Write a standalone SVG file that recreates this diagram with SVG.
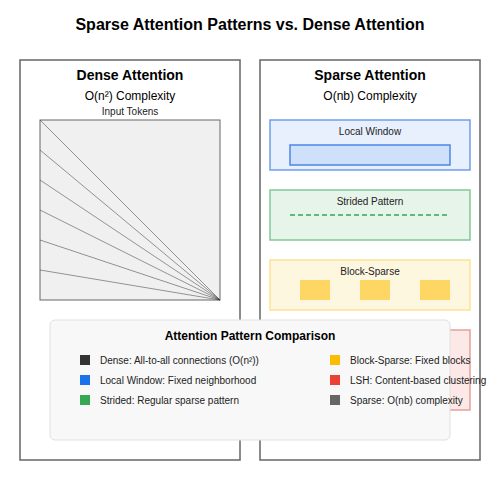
<svg xmlns="http://www.w3.org/2000/svg" width="500" height="500" viewBox="0 0 500 500">
<style>
text{font-family:"Liberation Sans",Arial,sans-serif;fill:#000;text-anchor:middle}
.title{font-size:16px;font-weight:bold}
.h{font-size:14px;font-weight:bold}
.sub{font-size:12px}
.sm{font-size:10px;fill:#222}
.leg{font-size:10px;fill:#222;text-anchor:start}
.panel{fill:#fff;stroke:#666;stroke-width:1.5}
.conn line{stroke:#333;stroke-width:0.5}
</style>
<rect width="500" height="500" fill="#fff"/>
<text class="title" x="250" y="30">Sparse Attention Patterns vs. Dense Attention</text>
<g id="dense">
<rect class="panel" x="20" y="60" width="220" height="400"/>
<text class="h" x="130" y="80">Dense Attention</text>
<text class="sub" x="130" y="100">O(n²) Complexity</text>
<text class="sm" x="130" y="115">Input Tokens</text>
<rect x="40" y="120" width="180" height="180" fill="#f0f0f0" stroke="#666" stroke-width="1"/>
</g>
<g id="connectors" class="conn">
<line x1="40" y1="120" x2="220" y2="300"/>
<line x1="40" y1="150" x2="220" y2="300"/>
<line x1="40" y1="180" x2="220" y2="300"/>
<line x1="40" y1="210" x2="220" y2="300"/>
<line x1="40" y1="240" x2="220" y2="300"/>
<line x1="40" y1="270" x2="220" y2="300"/>
</g>
<g id="sparse">
<rect class="panel" x="260" y="60" width="220" height="400"/>
<text class="h" x="370" y="80">Sparse Attention</text>
<text class="sub" x="370" y="100">O(nb) Complexity</text>
</g>
<g id="local-window">
<rect x="270" y="120" width="200" height="50" fill="#e8f0fe" stroke="#6d9eeb" stroke-width="1.5"/>
<text class="sm" x="370" y="135">Local Window</text>
<rect x="290" y="145" width="160" height="20" fill="#cfe0fa" stroke="#4a86e8" stroke-width="1.5"/>
</g>
<g id="strided">
<rect x="270" y="190" width="200" height="50" fill="#e6f4ea" stroke="#81c995" stroke-width="1.5"/>
<text class="sm" x="370" y="205">Strided Pattern</text>
<line x1="290" y1="215" x2="450" y2="215" stroke="#34a853" stroke-width="1.5" stroke-dasharray="5,3"/>
</g>
<g id="block-sparse">
<rect x="270" y="260" width="200" height="50" fill="#fef7e0" stroke="#fde293" stroke-width="1.5"/>
<text class="sm" x="370" y="275">Block-Sparse</text>
<rect x="300" y="280" width="30" height="20" fill="#fdd663"/>
<rect x="360" y="280" width="30" height="20" fill="#fdd663"/>
<rect x="420" y="280" width="30" height="20" fill="#fdd663"/>
</g>
<g id="lsh">
<rect x="270" y="330" width="200" height="80" fill="#fce8e6" stroke="#e6a09a" stroke-width="1.5"/>
</g>
<g id="legend">
<rect x="50" y="320" width="400" height="120" rx="5" fill="#f8f8f8" stroke="#e0e0e0" stroke-width="1"/>
<text x="250" y="340" style="font-size:12px;font-weight:bold">Attention Pattern Comparison</text>
<rect x="80" y="355" width="10" height="10" fill="#333"/>
<text class="leg" x="100" y="364">Dense: All-to-all connections (O(n²))</text>
<rect x="80" y="375" width="10" height="10" fill="#1a73e8"/>
<text class="leg" x="100" y="384">Local Window: Fixed neighborhood</text>
<rect x="80" y="395" width="10" height="10" fill="#34a853"/>
<text class="leg" x="100" y="404">Strided: Regular sparse pattern</text>
<rect x="330" y="355" width="10" height="10" fill="#fbbc04"/>
<text class="leg" x="350" y="364">Block-Sparse: Fixed blocks</text>
<rect x="330" y="375" width="10" height="10" fill="#ea4335"/>
<text class="leg" x="350" y="384">LSH: Content-based clustering</text>
<rect x="330" y="395" width="10" height="10" fill="#666"/>
<text class="leg" x="350" y="404">Sparse: O(nb) complexity</text>
</g>
</svg>
